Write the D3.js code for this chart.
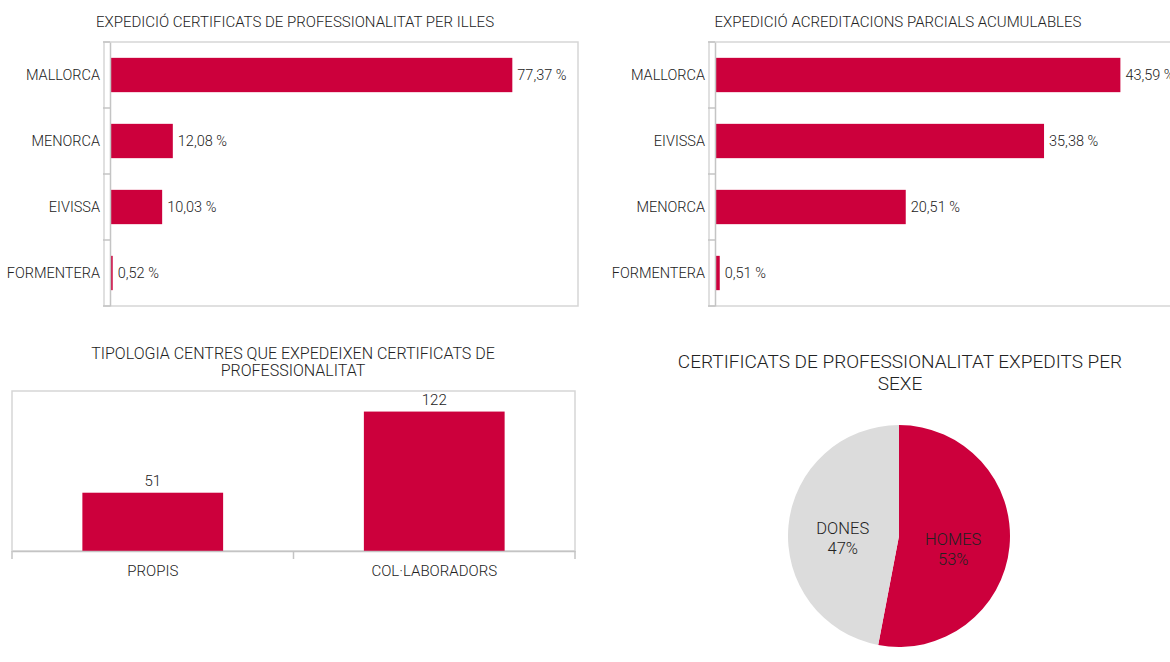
<!DOCTYPE html>
<html><head><meta charset="utf-8">
<script src="https://cdn.jsdelivr.net/npm/d3@7"></script>
<style>
html,body{margin:0;padding:0;background:#fff;}
svg{display:block;font-family:Roboto,"Open Sans",sans-serif;font-weight:300;}
</style></head>
<body>
<svg id="c" width="1170" height="662"></svg>
<script>
const illesCats = ["MALLORCA","MENORCA","EIVISSA","FORMENTERA"];
const illesVals = [77.37,12.08,10.03,0.52];
const acredCats = ["MALLORCA","EIVISSA","MENORCA","FORMENTERA"];
const acredVals = [43.59,35.38,20.51,0.51];
const centresCats = ["PROPIS","COL·LABORADORS"];
const centresVals = [51,122];
const sexeCats = ["HOMES","DONES"];
const sexeVals = [53,47];

const RED = "#cc003c", GREY = "#dcdcdc", TXT = "#222";
const FONT = "Roboto, 'Open Sans', sans-serif";
const svg = d3.select("#c");
const fmt = v => d3.format(".2f")(v).replace(".", ",") + " %";

function hbar(cats, vals, o){
  const g = svg.append("g");
  const x = d3.scaleLinear().domain([0,o.max]).range([o.x0,o.x1]);
  const y = d3.scaleBand().domain(cats).range([o.y0,o.y1]).paddingInner(0.48).paddingOuter(0.24);
  g.append("rect").attr("x",o.fx).attr("y",o.y0).attr("width",o.x1-o.fx).attr("height",o.y1-o.y0)
    .attr("fill","none").attr("stroke","#d6d6d6").attr("stroke-width",1.5);
  g.append("text").attr("x",o.tx).attr("y",o.ty).attr("text-anchor","middle")
    .attr("font-size",15).attr("fill",TXT).text(o.title);
  g.selectAll("rect.bar").data(vals).join("rect").attr("class","bar")
    .attr("x",x(0)).attr("y",(d,i)=>y(cats[i])).attr("width",d=>x(d)-x(0))
    .attr("height",y.bandwidth()).attr("fill",RED);
  g.selectAll("text.val").data(vals).join("text").attr("class","val")
    .attr("x",d=>x(d)+5).attr("y",(d,i)=>y(cats[i])+y.bandwidth()/2).attr("dy","0.35em")
    .attr("font-size",14.5).attr("fill",TXT).text(fmt);
  const ya = d3.axisLeft(y).tickSize(0).tickPadding(10);
  const ag = g.append("g").attr("transform",`translate(${x(0)},0)`).call(ya)
    .attr("font-family",FONT).attr("font-size",14.5);
  ag.select(".domain").attr("stroke","#c4c4c4").attr("stroke-width",1.5);
  ag.selectAll("text").attr("fill",TXT);
  const step = (o.y1-o.y0)/cats.length;
  const bounds = d3.range(cats.length+1).map(i=>o.y0+i*step);
  g.selectAll("line.tk").data(bounds).join("line").attr("class","tk")
    .attr("x1",x(0)-7).attr("x2",x(0)).attr("y1",d=>d).attr("y2",d=>d)
    .attr("stroke","#c4c4c4").attr("stroke-width",1.5);
}

hbar(illesCats, illesVals, {max:90, x0:110, x1:578, fx:104, y0:42, y1:306, tx:295, ty:27,
  title:"EXPEDICIÓ CERTIFICATS DE PROFESSIONALITAT PER ILLES"});
hbar(acredCats, acredVals, {max:50, x0:715, x1:1180, fx:709, y0:42, y1:306, tx:898, ty:27,
  title:"EXPEDICIÓ ACREDITACIONS PARCIALS ACUMULABLES"});

(function(){
  const g = svg.append("g");
  const L=12, R=575, T=391, B=551;
  const x = d3.scaleBand().domain(centresCats).range([L,R]).paddingInner(0.5).paddingOuter(0.25);
  const y = d3.scaleLinear().domain([0,140]).range([B,T]);
  g.append("rect").attr("x",L).attr("y",T).attr("width",R-L).attr("height",B-T)
    .attr("fill","none").attr("stroke","#d6d6d6").attr("stroke-width",1.5);
  g.append("text").attr("x",293).attr("y",359).attr("text-anchor","middle").attr("font-size",16).attr("fill",TXT)
    .text("TIPOLOGIA CENTRES QUE EXPEDEIXEN CERTIFICATS DE");
  g.append("text").attr("x",293).attr("y",376).attr("text-anchor","middle").attr("font-size",16).attr("fill",TXT)
    .text("PROFESSIONALITAT");
  g.selectAll("rect.bar").data(centresVals).join("rect").attr("class","bar")
    .attr("x",(d,i)=>x(centresCats[i])).attr("y",d=>y(d)).attr("width",x.bandwidth())
    .attr("height",d=>B-y(d)).attr("fill",RED);
  g.selectAll("text.val").data(centresVals).join("text").attr("class","val")
    .attr("x",(d,i)=>x(centresCats[i])+x.bandwidth()/2).attr("y",d=>y(d)-7)
    .attr("text-anchor","middle").attr("font-size",15).attr("fill",TXT).text(d=>d);
  const ax = d3.axisBottom(x).tickSize(0).tickPadding(14);
  const ag = g.append("g").attr("transform",`translate(0,${B})`).call(ax)
    .attr("font-family",FONT).attr("font-size",15);
  ag.select(".domain").attr("stroke","#c4c4c4").attr("stroke-width",1.5);
  ag.selectAll("text").attr("fill",TXT);
  const step=(R-L)/centresCats.length;
  g.selectAll("line.tk").data(d3.range(centresCats.length+1).map(i=>L+i*step)).join("line").attr("class","tk")
    .attr("x1",d=>d).attr("x2",d=>d).attr("y1",B).attr("y2",B+8).attr("stroke","#c4c4c4").attr("stroke-width",1.5);
})();

(function(){
  const cx=899, cy=536, r=111;
  const g = svg.append("g");
  g.append("text").attr("x",900).attr("y",368).attr("text-anchor","middle").attr("font-size",19).attr("fill",TXT)
    .text("CERTIFICATS DE PROFESSIONALITAT EXPEDITS PER");
  g.append("text").attr("x",900).attr("y",390).attr("text-anchor","middle").attr("font-size",19).attr("fill",TXT)
    .text("SEXE");
  const pie = d3.pie().sort(null).value(d=>d)(sexeVals);
  const arc = d3.arc().innerRadius(0).outerRadius(r);
  const colors=[RED,GREY];
  const pg = g.append("g").attr("transform",`translate(${cx},${cy})`);
  pg.selectAll("path").data(pie).join("path").attr("d",arc).attr("fill",(d,i)=>colors[i]);
  const la = d3.arc().innerRadius(r*0.5).outerRadius(r*0.5);
  pie.forEach((p,i)=>{
    const c = la.centroid(p);
    const t = pg.append("text").attr("text-anchor","middle").attr("font-size",16.5).attr("fill",TXT)
      .attr("transform",`translate(${c[0]-1},${c[1]+6})`);
    t.append("tspan").attr("x",0).attr("dy","-0.15em").text(sexeCats[i]);
    t.append("tspan").attr("x",0).attr("dy","1.2em").text(sexeVals[i]+"%");
  });
})();
</script>
</body></html>
